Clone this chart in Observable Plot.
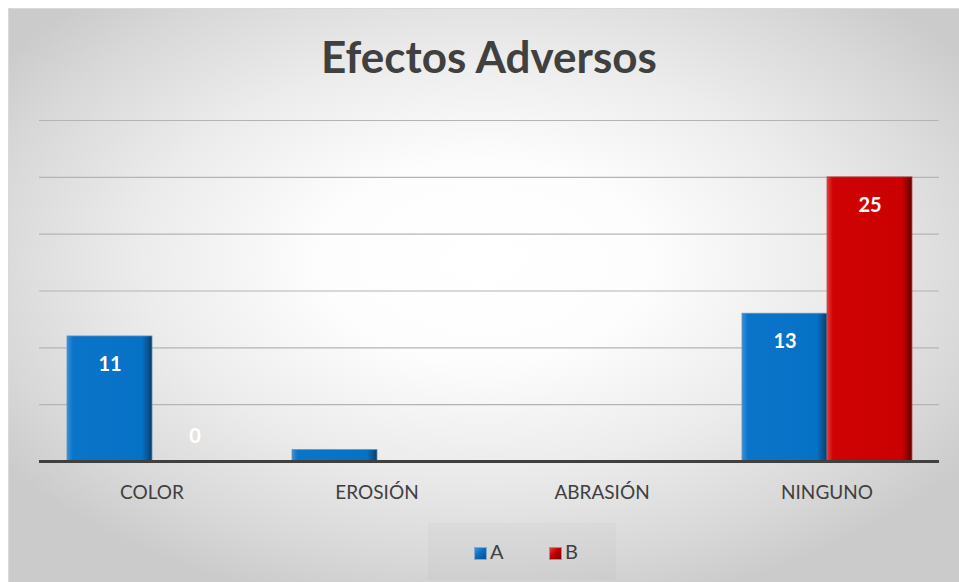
<!DOCTYPE html>
<html>
<head>
<meta charset="utf-8">
<script src="https://cdn.jsdelivr.net/npm/d3@7"></script>
<script src="https://cdn.jsdelivr.net/npm/@observablehq/plot@0.6"></script>
<style>
  html, body { margin: 0; padding: 0; background: #ffffff; width: 959px; height: 582px; overflow: hidden; }
  #panel {
    position: absolute; left: 8px; top: 8px; width: 951px; height: 574px;
    background: radial-gradient(ellipse 62% 62% at 50% 44%, #ffffff 0%, #fdfdfd 28%, #ececec 58%, #d8d8d8 85%, #cbcbcb 100%);
    border-top: 1px solid #d9d9d9; border-left: 1px solid #d9d9d9; box-sizing: border-box;
  }
  #title {
    position: absolute; left: 0; top: 34px; width: 978px; text-align: center;
    font-family: Lato, "Open Sans", sans-serif; font-weight: 700; font-size: 44px; line-height: 1;
    color: #404040;
  }
  #chart { position: absolute; left: 0; top: 100px; }
  #legend {
    position: absolute; left: 428px; top: 523px; width: 188px; height: 57px;
    background: rgba(0,0,0,0.018);
    font-family: Lato, "Open Sans", sans-serif; font-size: 20px; color: #404040;
  }
  .item { position: absolute; top: 16px; height: 24px; line-height: 24px; }
  .sw { display: inline-block; width: 13px; height: 13px; vertical-align: -1px; margin-right: 3px; box-sizing: border-box; }
  .swA { background: linear-gradient(135deg, #3d92da 0%, #0a6fc2 45%, #064f8c 100%); border: 1px solid #7fa9cf; }
  .swB { background: linear-gradient(135deg, #e43a3a 0%, #c00000 45%, #7d0000 100%); border: 1px solid #d27a7a; }
</style>
</head>
<body>
<div id="panel"></div>
<div id="title">Efectos Adversos</div>
<div id="chart"></div>
<div id="legend">
  <div class="item" style="left:46px"><span class="sw swA"></span>A</div>
  <div class="item" style="left:121px"><span class="sw swB"></span>B</div>
</div>
<script>
const categories = ["COLOR", "EROSIÓN", "ABRASIÓN", "NINGUNO"];
const series = ["A", "B"];
const valuesA = [11, 1, 0, 13];
const valuesB = [0, 0, 0, 25];
const labelsA = ["11", "", "", "13"];
const labelsB = ["0", "", "", "25"];
const yTicks = [0, 5, 10, 15, 20, 25, 30];

const data = categories.flatMap((c, i) => [
  {cat: c, s: "A", v: valuesA[i], label: labelsA[i]},
  {cat: c, s: "B", v: valuesB[i], label: labelsB[i]}
]);

const labelled = data.filter(d => d.label !== "");

const chart = Plot.plot({
  width: 959,
  height: 415,
  marginLeft: 38,
  marginRight: 19,
  marginTop: 20,
  marginBottom: 54,
  style: {background: "transparent", fontFamily: "Lato, 'Open Sans', sans-serif", overflow: "visible"},
  fx: {domain: categories, padding: 0, axis: null},
  x: {domain: series, paddingInner: 0, paddingOuter: 0.311, axis: null},
  y: {domain: [0, 30], axis: null},
  marks: [
    Plot.ruleY(yTicks.filter(t => t > 0), {stroke: "#b4b4b4", strokeWidth: 1.2}),
    Plot.barY(data.filter(d => d.s === "A"), {fx: "cat", x: "s", y: "v", fill: "url(#gradA)", stroke: "#5d8fbf", strokeWidth: 0.8}),
    Plot.barY(data.filter(d => d.s === "B"), {fx: "cat", x: "s", y: "v", fill: "url(#gradB)", stroke: "#b85050", strokeWidth: 0.8}),
    Plot.ruleY([0], {stroke: "#404040", strokeWidth: 3}),
    Plot.text(labelled.filter(d => d.v > 0), {fx: "cat", x: "s", y: "v", text: "label", dy: 28, fill: "white", fontWeight: "bold", fontSize: 20}),
    Plot.text(labelled.filter(d => d.v === 0), {fx: "cat", x: "s", y: "v", text: "label", dy: -25, fill: "white", fontWeight: "bold", fontSize: 20}),
    Plot.axisFx({anchor: "bottom", tickSize: 0, tickPadding: 24, fontSize: 19, color: "#404040", label: null})
  ]
});

const ns = "http://www.w3.org/2000/svg";
const defs = document.createElementNS(ns, "defs");
defs.innerHTML = `
  <linearGradient id="gradA" x1="0" y1="0" x2="1" y2="0">
    <stop offset="0" stop-color="#3a8fd8"/>
    <stop offset="0.07" stop-color="#0a74c9"/>
    <stop offset="0.88" stop-color="#0672c6"/>
    <stop offset="0.95" stop-color="#0a5592"/>
    <stop offset="1" stop-color="#083b66"/>
  </linearGradient>
  <linearGradient id="gradB" x1="0" y1="0" x2="1" y2="0">
    <stop offset="0" stop-color="#e63a3a"/>
    <stop offset="0.07" stop-color="#cf0303"/>
    <stop offset="0.88" stop-color="#cb0000"/>
    <stop offset="0.95" stop-color="#930000"/>
    <stop offset="1" stop-color="#5e0000"/>
  </linearGradient>`;
chart.insertBefore(defs, chart.firstChild);
document.getElementById("chart").appendChild(chart);
</script>
</body>
</html>
